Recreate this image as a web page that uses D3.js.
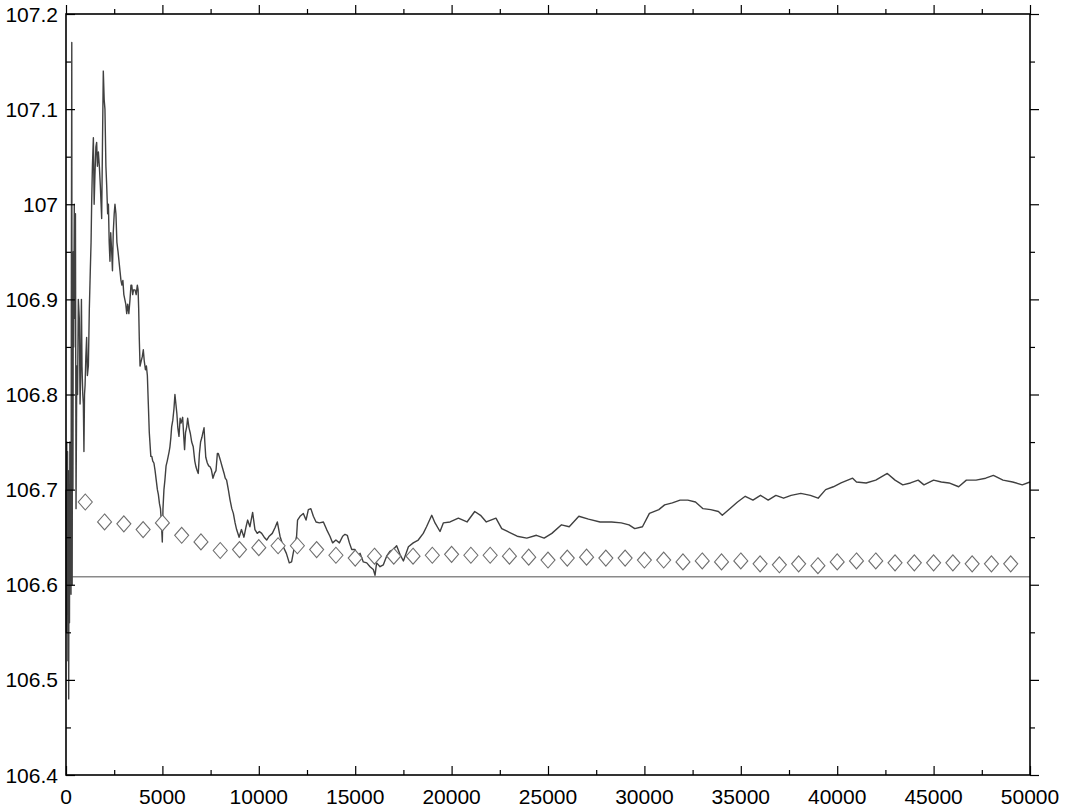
<!DOCTYPE html>
<html>
<head>
<meta charset="utf-8">
<script src="https://cdn.jsdelivr.net/npm/d3@7"></script>
<style>
  body { margin: 0; background: #fff; }
  text { font-family: "Liberation Sans", Arial, Helvetica, sans-serif; }
</style>
</head>
<body>
<svg id="canvas" width="1074" height="807"></svg>
<script>
/********** Data *********/
// running estimate
var steps = [
    0, 20, 40, 60, 80, 100, 120, 140, 160, 180, 200, 220, 240, 260, 280, 300, 320, 340, 360, 380,
    400, 430, 460, 490, 520, 560, 600, 640, 690, 730, 760, 800, 830, 870, 900, 930, 960, 990, 1030, 1070,
    1110, 1160, 1210, 1260, 1300, 1330, 1370, 1420, 1460, 1500, 1550, 1590, 1630, 1680, 1730, 1780, 1820, 1850, 1890, 1935,
    1980, 2020, 2070, 2110, 2160, 2200, 2240, 2280, 2320, 2370, 2410, 2450, 2500, 2540, 2590, 2640, 2700, 2750, 2800, 2850,
    2900, 2950, 3000, 3050, 3100, 3150, 3200, 3260, 3320, 3370, 3410, 3460, 3500, 3580, 3640, 3700, 3740, 3770, 3800, 3840,
    3900, 3960, 4010, 4060, 4120, 4170, 4220, 4270, 4320, 4400, 4450, 4500, 4560, 4620, 4680, 4740, 4790, 4850, 4900, 4950,
    4995, 5030, 5080, 5130, 5190, 5250, 5300, 5350, 5390, 5440, 5480, 5540, 5600, 5650, 5700, 5750, 5800, 5860, 5920, 5970,
    6050, 6110, 6150, 6200, 6260, 6310, 6380, 6450, 6520, 6600, 6680, 6740, 6800, 6860, 6920, 6980, 7050, 7100, 7160, 7200,
    7250, 7330, 7400, 7470, 7540, 7620, 7700, 7780, 7850, 7900, 7960, 8020, 8100, 8200, 8260, 8330, 8420, 8510, 8600, 8680,
    8770, 8850, 8980, 9100, 9230, 9340, 9420, 9540, 9680, 9800, 9920, 10030, 10150, 10280, 10410, 10540, 10700, 10840, 10960, 11100,
    11270, 11430, 11580, 11700, 11820, 11960, 12010, 12140, 12310, 12450, 12570, 12700, 12830, 12970, 13140, 13350, 13520, 13690, 13830, 14000,
    14180, 14350, 14470, 14590, 14700, 14820, 14990, 15110, 15250, 15420, 15600, 15770, 15940, 16030, 16110, 16290, 16460, 16630, 16800, 16970,
    17150, 17320, 17500, 17760, 18010, 18270, 18530, 18700, 18970, 19140, 19400, 19570, 19920, 20350, 20800, 21200, 21500, 21800, 22300, 22600,
    22900, 23400, 23900, 24400, 24800, 25200, 25700, 26100, 26600, 27100, 27700, 28300, 28800, 29200, 29500, 29900, 30260, 30750, 31050, 31450,
    31850, 32250, 32650, 33040, 33440, 33840, 34040, 34430, 34830, 35230, 35630, 36020, 36420, 36820, 37220, 37610, 38110, 38610, 39010, 39400,
    39800, 40200, 40800, 41000, 41500, 42000, 42600, 43000, 43400, 43800, 44200, 44500, 45000, 45400, 45800, 46300, 46700, 47200, 47700, 48100,
    48600, 49100, 49600, 50000
];

var estimate = [
    106.70, 106.55, 106.75, 106.60, 106.74, 106.52, 106.72, 106.48, 106.70, 106.56, 106.75, 106.62, 106.74, 106.59, 106.95, 107.17, 106.60, 106.86, 106.70, 106.95,
    106.85, 107.00, 106.88, 106.99, 106.68, 106.83, 106.80, 106.90, 106.88, 106.79, 106.82, 106.90, 106.83, 106.80, 106.79, 106.74, 106.80, 106.81, 106.84, 106.86,
    106.82, 106.83, 106.89, 106.93, 106.96, 107.00, 107.04, 107.07, 107.00, 107.03, 107.06, 107.065, 107.04, 107.055, 107.04, 107.02, 107.00, 106.985, 107.06, 107.14,
    107.11, 107.10, 107.04, 107.02, 106.99, 107.00, 106.96, 106.94, 106.97, 106.95, 106.93, 106.97, 106.99, 107.00, 106.99, 106.96, 106.95, 106.94, 106.93, 106.92,
    106.915, 106.92, 106.905, 106.90, 106.895, 106.885, 106.895, 106.885, 106.90, 106.915, 106.915, 106.905, 106.91, 106.91, 106.905, 106.915, 106.91, 106.89, 106.86, 106.83,
    106.835, 106.84, 106.847, 106.835, 106.826, 106.83, 106.82, 106.79, 106.76, 106.735, 106.735, 106.73, 106.728, 106.72, 106.71, 106.70, 106.695, 106.685, 106.68, 106.665,
    106.645, 106.68, 106.70, 106.71, 106.725, 106.73, 106.735, 106.74, 106.745, 106.755, 106.766, 106.773, 106.785, 106.80, 106.79, 106.78, 106.765, 106.756, 106.775, 106.77,
    106.776, 106.755, 106.742, 106.76, 106.766, 106.775, 106.765, 106.759, 106.75, 106.745, 106.73, 106.724, 106.72, 106.717, 106.738, 106.75, 106.755, 106.76, 106.765, 106.75,
    106.734, 106.728, 106.725, 106.724, 106.721, 106.712, 106.717, 106.72, 106.738, 106.738, 106.734, 106.73, 106.724, 106.717, 106.712, 106.71, 106.70, 106.689, 106.68, 106.675,
    106.665, 106.658, 106.650, 106.658, 106.650, 106.661, 106.668, 106.661, 106.676, 106.658, 106.654, 106.656, 106.654, 106.650, 106.647, 106.651, 106.654, 106.660, 106.666, 106.651,
    106.640, 106.633, 106.623, 106.624, 106.637, 106.651, 106.668, 106.672, 106.675, 106.668, 106.679, 106.680, 106.672, 106.666, 106.665, 106.666, 106.658, 106.651, 106.644, 106.647,
    106.644, 106.651, 106.653, 106.652, 106.644, 106.637, 106.637, 106.630, 106.633, 106.624, 106.623, 106.619, 106.616, 106.610, 106.623, 106.619, 106.621, 106.630, 106.635, 106.637,
    106.641, 106.632, 106.625, 106.640, 106.644, 106.647, 106.654, 106.661, 106.673, 106.665, 106.656, 106.665, 106.666, 106.670, 106.666, 106.677, 106.673, 106.666, 106.670, 106.659,
    106.656, 106.651, 106.649, 106.652, 106.649, 106.654, 106.663, 106.661, 106.672, 106.669, 106.666, 106.666, 106.665, 106.663, 106.659, 106.661, 106.675, 106.679, 106.684, 106.686,
    106.689, 106.689, 106.687, 106.680, 106.679, 106.677, 106.673, 106.680, 106.687, 106.693, 106.689, 106.694, 106.689, 106.694, 106.691, 106.694, 106.696, 106.694, 106.691, 106.700,
    106.703, 106.707, 106.712, 106.708, 106.707, 106.710, 106.717, 106.710, 106.705, 106.707, 106.710, 106.705, 106.710, 106.708, 106.707, 106.703, 106.710, 106.710, 106.712, 106.715,
    106.710, 106.708, 106.705, 106.708
];

// diamond markers, every 1000 steps
var markSteps = [
    1000, 2000, 3000, 4000, 5000, 6000, 7000, 8000, 9000, 10000,
    11000, 12000, 13000, 14000, 15000, 16000, 17000, 18000, 19000, 20000,
    21000, 22000, 23000, 24000, 25000, 26000, 27000, 28000, 29000, 30000,
    31000, 32000, 33000, 34000, 35000, 36000, 37000, 38000, 39000, 40000,
    41000, 42000, 43000, 44000, 45000, 46000, 47000, 48000, 49000
];
var markValues = [
    106.687, 106.666, 106.664, 106.658, 106.665, 106.652, 106.645, 106.636, 106.637, 106.639,
    106.641, 106.641, 106.637, 106.631, 106.628, 106.630, 106.630, 106.630, 106.631, 106.632,
    106.631, 106.631, 106.630, 106.629, 106.626, 106.628, 106.629, 106.628, 106.628, 106.626,
    106.626, 106.624, 106.625, 106.624, 106.625, 106.622, 106.621, 106.622, 106.620, 106.624,
    106.625, 106.625, 106.623, 106.623, 106.623, 106.623, 106.622, 106.622, 106.622
];

// reference level
var trueValue = 106.6085;

var xTicks = [0, 5000, 10000, 15000, 20000, 25000, 30000, 35000, 40000, 45000, 50000];
var xMinor = [2500, 7500, 12500, 17500, 22500, 27500, 32500, 37500, 42500, 47500];
var yTicks = [106.4, 106.5, 106.6, 106.7, 106.8, 106.9, 107, 107.1, 107.2];
var yMinor = [106.45, 106.55, 106.65, 106.75, 106.85, 106.95, 107.05, 107.15];


/********** Initialisation *********/
var svg = d3.select("#canvas");

var plotLeft = 66, plotRight = 1030, plotTop = 14, plotBottom = 775;

var x = d3.scaleLinear().domain([0, 50000]).range([plotLeft, plotRight]);
var y = d3.scaleLinear().domain([106.4, 107.2]).range([plotBottom, plotTop]);

var g = svg.append("g");


/*********** Reference line & series *************/
g.append("line")
    .attr("x1", x(0))
    .attr("x2", x(50000))
    .attr("y1", y(trueValue))
    .attr("y2", y(trueValue))
    .attr("stroke", "#8a8a8a")
    .attr("stroke-width", 1.5);

var series = steps.map(function(s, i) { return [s, estimate[i]]; });

var line = d3.line()
    .x(function(d) { return x(d[0]); })
    .y(function(d) { return y(d[1]); });

g.append("path")
    .datum(series)
    .attr("d", line)
    .attr("fill", "none")
    .attr("stroke", "#404040")
    .attr("stroke-width", 1.4)
    .attr("stroke-linejoin", "round");

var marks = markSteps.map(function(s, i) { return [s, markValues[i]]; });

g.append("g")
    .selectAll("path")
    .data(marks)
    .enter()
    .append("path")
    .attr("d", "M0,-8L7,0L0,8L-7,0Z")
    .attr("transform", function(d) { return "translate(" + x(d[0]) + "," + y(d[1]) + ")"; })
    .attr("fill", "#fff")
    .attr("stroke", "#6e6e6e")
    .attr("stroke-width", 1.1);


/********** Axes ************/
function fmt(d) { return String(+d.toFixed(2)); }

function tickAxis(axisFn, scale, major, minor, pos, mirror)
{
    var ax = svg.append("g").attr("transform", pos);
    // ticks point into the plot
    ax.call(axisFn(scale).tickValues(major).tickSize(mirror ? 9 : -9).tickFormat(""));
    ax.append("g").call(axisFn(scale).tickValues(minor).tickSize(mirror ? 5 : -5).tickFormat(""));
    ax.selectAll("path").remove();
    ax.selectAll("line").attr("stroke", "#000").attr("stroke-width", 1.2);
    return ax;
}

tickAxis(d3.axisBottom, x, xTicks, xMinor, "translate(0," + plotBottom + ")", false);
tickAxis(d3.axisTop, x, xTicks, xMinor, "translate(0," + plotTop + ")", true);
tickAxis(d3.axisLeft, y, yTicks, yMinor, "translate(" + plotLeft + ",0)", false);
tickAxis(d3.axisRight, y, yTicks, yMinor, "translate(" + plotRight + ",0)", true);

// frame
svg.append("rect")
    .attr("x", plotLeft)
    .attr("y", plotTop)
    .attr("width", plotRight - plotLeft)
    .attr("height", plotBottom - plotTop)
    .attr("fill", "none")
    .attr("stroke", "#000")
    .attr("stroke-width", 1.6);

// labels
svg.append("g")
    .selectAll("text")
    .data(xTicks)
    .enter()
    .append("text")
    .attr("x", function(d) { return x(d); })
    .attr("y", 804)
    .attr("text-anchor", "middle")
    .attr("font-size", 21)
    .attr("fill", "#000")
    .text(fmt);

svg.append("g")
    .selectAll("text")
    .data(yTicks)
    .enter()
    .append("text")
    .attr("x", 58)
    .attr("y", function(d) { return y(d) + 7.5; })
    .attr("text-anchor", "end")
    .attr("font-size", 21)
    .attr("fill", "#000")
    .text(fmt);
</script>
</body>
</html>
